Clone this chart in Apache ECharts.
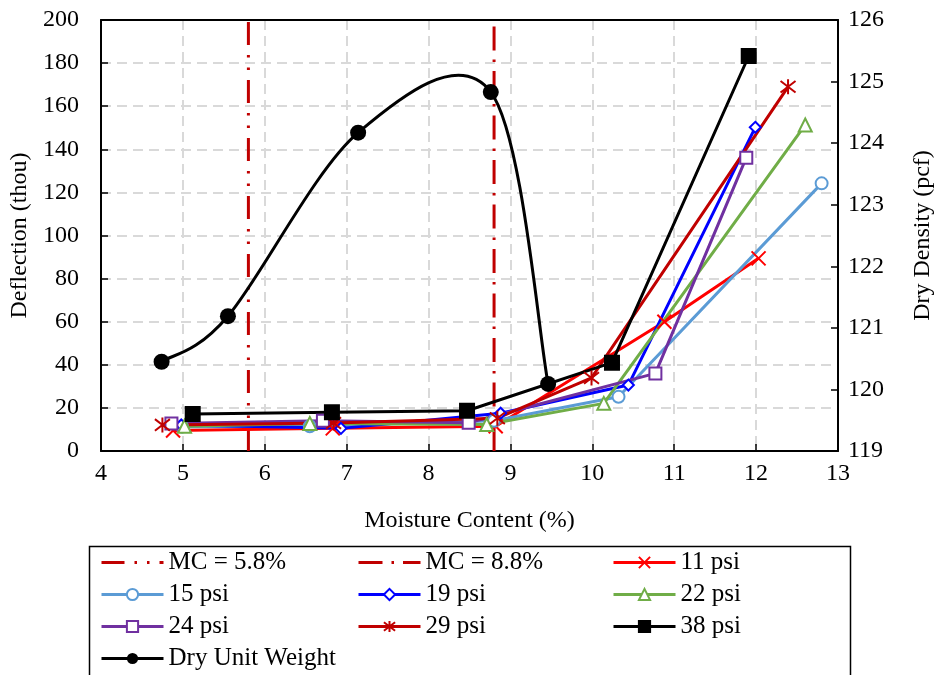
<!DOCTYPE html>
<html>
<head>
<meta charset="utf-8">
<script src="https://cdn.jsdelivr.net/npm/echarts@6/dist/echarts.min.js"></script>
<style>
  html, body { margin: 0; padding: 0; background: #fff; }
  #chart { width: 943px; height: 675px; }
</style>
</head>
<body>
<div id="chart"></div>
<script>
// moisture content (%) and deflection (thou) for each pressure
var mc11 = [4.88, 6.83, 8.82, 10.88, 12.03];
var def11 = [9.5, 10.5, 11.5, 60.0, 89.4];
var mc15 = [4.99, 6.55, 8.80, 10.32, 12.80];
var def15 = [11.3, 11.5, 14.0, 25.2, 124.2];
var mc19 = [4.98, 6.93, 8.88, 10.44, 11.99];
var def19 = [12.1, 10.5, 17.5, 30.6, 150.2];
var mc22 = [5.02, 6.55, 8.71, 10.14, 12.60];
var def22 = [11.5, 12.8, 12.3, 22.1, 151.3];
var mc24 = [4.86, 6.71, 8.49, 10.77, 11.88];
var def24 = [12.8, 14.0, 13.1, 36.0, 136.1];
var mc29 = [4.75, 6.84, 8.84, 9.99, 12.39];
var def29 = [12.1, 13.0, 15.2, 33.9, 169.0];
var mc38 = [5.12, 6.82, 8.47, 10.24, 11.91];
var def38 = [17.2, 18.0, 18.7, 41.0, 183.3];

// dry unit weight (pcf), right axis
var mcDry = [4.74, 5.55, 7.14, 8.76, 9.46];
var dryDensity = [120.45, 121.19, 124.17, 124.83, 120.09];

// vertical reference lines
var mcLow = [5.8, 5.8];
var mcHigh = [8.8, 8.8];
var mcLineY = [0, 200];

var font = 'Liberation Serif';

function pairs(xs, ys) {
    return xs.map(function (x, i) { return [x, ys[i]]; });
}

var dryPairs = pairs(mcDry, dryDensity);

// cross and asterisk marks, stroked only
var crossPath = 'path://M0,0L10,10M10,0L0,10';
var starPath = 'path://M0,0L10,10M10,0L0,10M5,-1.5L5,11.5';

function psiSeries(name, xs, ys, color, symbol, size, filled) {
    return {
        name: name,
        type: 'line',
        data: pairs(xs, ys),
        symbol: symbol,
        symbolSize: size,
        lineStyle: { color: color, width: 3 },
        itemStyle: {
            color: filled ? color : '#fff',
            borderColor: color,
            borderWidth: 2
        },
        emphasis: { disabled: true },
        z: 3
    };
}

function mcSeries(name, xs, dash) {
    return {
        name: name,
        type: 'line',
        data: pairs(xs, mcLineY),
        symbol: 'none',
        lineStyle: { color: '#C00000', width: 3, type: dash },
        itemStyle: { color: '#C00000', opacity: 0 },
        emphasis: { disabled: true },
        z: 2
    };
}

// excel style smoothed curve: bezier through the points, drawn in pixel space
function renderDryCurve(params, api) {
    if (params.dataIndex !== 0) {
        return;
    }
    var p = dryPairs.map(function (d) { return api.coord(d); });
    var n = p.length;
    var segs = [];
    for (var i = 0; i < n - 1; i++) {
        var p0 = p[Math.max(i - 1, 0)];
        var p1 = p[i];
        var p2 = p[i + 1];
        var p3 = p[Math.min(i + 2, n - 1)];
        segs.push({
            type: 'bezierCurve',
            shape: {
                x1: p1[0], y1: p1[1],
                x2: p2[0], y2: p2[1],
                cpx1: p1[0] + (p2[0] - p0[0]) / 6,
                cpy1: p1[1] + (p2[1] - p0[1]) / 6,
                cpx2: p2[0] - (p3[0] - p1[0]) / 6,
                cpy2: p2[1] - (p3[1] - p1[1]) / 6
            },
            style: { fill: null, stroke: '#000', lineWidth: 3 }
        });
    }
    return { type: 'group', children: segs };
}

var series = [
    mcSeries('MC = 5.8%', mcLow, [23, 10, 2.5, 10, 2.5, 10]),
    mcSeries('MC = 8.8%', mcHigh, [24, 9, 2.5, 9]),
    {
        name: '11 psi',
        type: 'line',
        data: pairs(mc11, def11),
        symbol: crossPath,
        symbolSize: 14,
        lineStyle: { color: '#FF0000', width: 3 },
        itemStyle: { color: 'rgba(0,0,0,0)', borderColor: '#FF0000', borderWidth: 2 },
        emphasis: { disabled: true },
        z: 3
    },
    psiSeries('15 psi', mc15, def15, '#5B9BD5', 'circle', 12, false),
    psiSeries('19 psi', mc19, def19, '#0000FF', 'diamond', 11, false),
    psiSeries('22 psi', mc22, def22, '#70AD47', 'triangle', 13, false),
    psiSeries('24 psi', mc24, def24, '#7030A0', 'rect', 12, false),
    {
        name: '29 psi',
        type: 'line',
        data: pairs(mc29, def29),
        symbol: starPath,
        symbolSize: 15,
        lineStyle: { color: '#C00000', width: 3 },
        itemStyle: { color: 'rgba(0,0,0,0)', borderColor: '#C00000', borderWidth: 2 },
        emphasis: { disabled: true },
        z: 3
    },
    psiSeries('38 psi', mc38, def38, '#000000', 'rect', 14, true),
    {
        name: 'dryCurve',
        type: 'custom',
        yAxisIndex: 1,
        data: dryPairs,
        renderItem: renderDryCurve,
        silent: true,
        z: 4
    },
    {
        // markers only, the curve comes from the custom series
        name: 'Dry Unit Weight',
        type: 'line',
        yAxisIndex: 1,
        data: dryPairs,
        symbol: 'circle',
        symbolSize: 16,
        lineStyle: { color: '#000', width: 3, opacity: 0 },
        itemStyle: { color: '#000' },
        emphasis: { disabled: true },
        z: 5
    }
];

var legendText = { fontFamily: font, fontSize: 25, color: '#000', lineHeight: 25 };

function legendCol(left, names) {
    return {
        orient: 'vertical',
        left: left,
        top: 550,
        padding: 0,
        itemWidth: 62,
        itemHeight: 14,
        itemGap: 7,
        textStyle: legendText,
        lineStyle: { opacity: 1, width: 3 },
        selectedMode: false,
        data: names
    };
}

var splitStyle = { color: '#D9D9D9', width: 2, type: [10, 6] };
var tickStyle = { show: true, inside: true, length: 7, lineStyle: { color: '#000', width: 1.5 } };

var option = {
    animation: false,
    backgroundColor: '#fff',
    grid: {
        left: 101, right: 103, top: 20, bottom: 224
    },
    xAxis: [
        {
            type: 'value',
            min: 4, max: 13, interval: 1,
            name: 'Moisture Content (%)',
            nameLocation: 'middle',
            nameGap: 58,
            nameTextStyle: { fontFamily: font, fontSize: 24, color: '#000' },
            axisLine: { onZero: false, lineStyle: { color: '#000', width: 2 } },
            axisTick: tickStyle,
            axisLabel: { fontFamily: font, fontSize: 24, color: '#000', margin: 11 },
            splitLine: { show: true, lineStyle: splitStyle }
        },
        {
            // top border of the plot
            type: 'value',
            position: 'top',
            min: 4, max: 13,
            axisLine: { show: true, onZero: false, lineStyle: { color: '#000', width: 2 } },
            axisTick: { show: false },
            axisLabel: { show: false },
            splitLine: { show: false }
        }
    ],
    yAxis: [
        {
            type: 'value',
            min: 0, max: 200, interval: 20,
            name: 'Deflection (thou)',
            nameLocation: 'middle',
            nameRotate: 90,
            nameGap: 62,
            nameTextStyle: { fontFamily: font, fontSize: 24, color: '#000' },
            axisLine: { show: true, lineStyle: { color: '#000', width: 2 } },
            axisTick: tickStyle,
            axisLabel: { fontFamily: font, fontSize: 24, color: '#000', margin: 22 },
            splitLine: { show: true, lineStyle: splitStyle }
        },
        {
            type: 'value',
            position: 'right',
            min: 119, max: 126, interval: 1,
            name: 'Dry Density (pcf)',
            nameLocation: 'middle',
            nameRotate: 90,
            nameGap: 73,
            nameTextStyle: { fontFamily: font, fontSize: 24, color: '#000' },
            axisLine: { show: true, lineStyle: { color: '#000', width: 2 } },
            axisTick: tickStyle,
            axisLabel: { fontFamily: font, fontSize: 24, color: '#000', margin: 10 },
            splitLine: { show: false }
        }
    ],
    legend: [
        legendCol(100, ['MC = 5.8%', '15 psi', '24 psi', 'Dry Unit Weight']),
        legendCol(357, ['MC = 8.8%', '19 psi', '29 psi']),
        legendCol(612, ['11 psi', '22 psi', '38 psi'])
    ],
    graphic: [
        {
            type: 'rect',
            shape: { x: 89.5, y: 546.5, width: 761, height: 140 },
            style: { fill: 'none', stroke: '#000', lineWidth: 1.5 },
            z: -1
        }
    ],
    series: series
};

var myChart = echarts.init(document.getElementById('chart'));
myChart.setOption(option);
</script>
</body>
</html>
